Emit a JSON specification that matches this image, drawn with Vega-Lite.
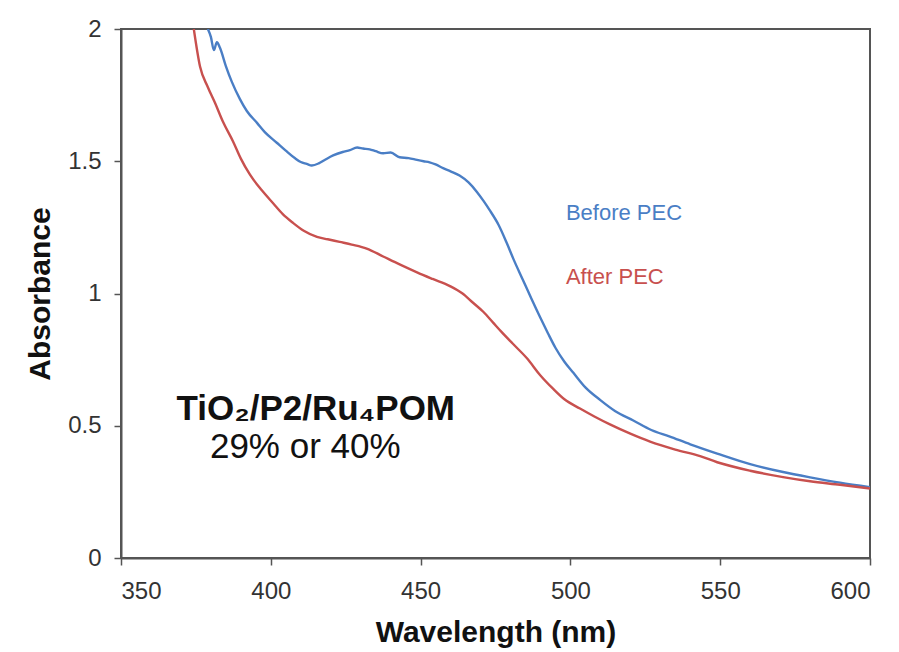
{
  "$schema": "https://vega.github.io/schema/vega-lite/v6.json",
  "width": 749,
  "height": 529,
  "autosize": {"type": "none"},
  "padding": {"left": 121, "top": 29, "right": 29, "bottom": 94},
  "background": "white",
  "config": {
    "font": "Liberation Sans",
    "view": {"stroke": "#555555", "strokeWidth": 2},
    "axis": {
      "grid": false,
      "domainColor": "#555555",
      "domainWidth": 2,
      "tickColor": "#555555",
      "tickWidth": 1.5,
      "tickSize": 7,
      "labelFont": "Liberation Sans",
      "labelFontSize": 24,
      "labelColor": "#333333",
      "titleFont": "Liberation Sans",
      "titleFontSize": 30,
      "titleFontWeight": "bold",
      "titleColor": "#111111"
    }
  },
  "datasets": {
    "spectra": [
      {"wl": 379, "A": 2.0, "series": "Before PEC"},
      {"wl": 380, "A": 1.97, "series": "Before PEC"},
      {"wl": 381, "A": 1.92, "series": "Before PEC"},
      {"wl": 382, "A": 1.95, "series": "Before PEC"},
      {"wl": 383, "A": 1.93, "series": "Before PEC"},
      {"wl": 385, "A": 1.86, "series": "Before PEC"},
      {"wl": 387, "A": 1.8, "series": "Before PEC"},
      {"wl": 389.7, "A": 1.735, "series": "Before PEC"},
      {"wl": 392, "A": 1.69, "series": "Before PEC"},
      {"wl": 395.4, "A": 1.645, "series": "Before PEC"},
      {"wl": 398, "A": 1.61, "series": "Before PEC"},
      {"wl": 402, "A": 1.57, "series": "Before PEC"},
      {"wl": 405, "A": 1.54, "series": "Before PEC"},
      {"wl": 408, "A": 1.512, "series": "Before PEC"},
      {"wl": 410, "A": 1.497, "series": "Before PEC"},
      {"wl": 412, "A": 1.49, "series": "Before PEC"},
      {"wl": 413.7, "A": 1.484, "series": "Before PEC"},
      {"wl": 416, "A": 1.492, "series": "Before PEC"},
      {"wl": 418, "A": 1.505, "series": "Before PEC"},
      {"wl": 420.8, "A": 1.522, "series": "Before PEC"},
      {"wl": 424, "A": 1.535, "series": "Before PEC"},
      {"wl": 426.4, "A": 1.542, "series": "Before PEC"},
      {"wl": 428.8, "A": 1.552, "series": "Before PEC"},
      {"wl": 430.8, "A": 1.548, "series": "Before PEC"},
      {"wl": 433, "A": 1.545, "series": "Before PEC"},
      {"wl": 435, "A": 1.538, "series": "Before PEC"},
      {"wl": 437.5, "A": 1.53, "series": "Before PEC"},
      {"wl": 440, "A": 1.533, "series": "Before PEC"},
      {"wl": 443, "A": 1.515, "series": "Before PEC"},
      {"wl": 446, "A": 1.512, "series": "Before PEC"},
      {"wl": 448.8, "A": 1.505, "series": "Before PEC"},
      {"wl": 451, "A": 1.5, "series": "Before PEC"},
      {"wl": 453, "A": 1.496, "series": "Before PEC"},
      {"wl": 455, "A": 1.488, "series": "Before PEC"},
      {"wl": 457.5, "A": 1.474, "series": "Before PEC"},
      {"wl": 460, "A": 1.462, "series": "Before PEC"},
      {"wl": 463, "A": 1.446, "series": "Before PEC"},
      {"wl": 466, "A": 1.42, "series": "Before PEC"},
      {"wl": 468.8, "A": 1.384, "series": "Before PEC"},
      {"wl": 471, "A": 1.35, "series": "Before PEC"},
      {"wl": 473, "A": 1.316, "series": "Before PEC"},
      {"wl": 476, "A": 1.26, "series": "Before PEC"},
      {"wl": 478.8, "A": 1.19, "series": "Before PEC"},
      {"wl": 481, "A": 1.13, "series": "Before PEC"},
      {"wl": 484, "A": 1.055, "series": "Before PEC"},
      {"wl": 487, "A": 0.98, "series": "Before PEC"},
      {"wl": 489.9, "A": 0.91, "series": "Before PEC"},
      {"wl": 492.5, "A": 0.85, "series": "Before PEC"},
      {"wl": 495, "A": 0.795, "series": "Before PEC"},
      {"wl": 498, "A": 0.742, "series": "Before PEC"},
      {"wl": 501, "A": 0.7, "series": "Before PEC"},
      {"wl": 505, "A": 0.645, "series": "Before PEC"},
      {"wl": 510, "A": 0.597, "series": "Before PEC"},
      {"wl": 515, "A": 0.555, "series": "Before PEC"},
      {"wl": 521, "A": 0.52, "series": "Before PEC"},
      {"wl": 527, "A": 0.484, "series": "Before PEC"},
      {"wl": 533, "A": 0.46, "series": "Before PEC"},
      {"wl": 540, "A": 0.43, "series": "Before PEC"},
      {"wl": 549, "A": 0.395, "series": "Before PEC"},
      {"wl": 560, "A": 0.355, "series": "Before PEC"},
      {"wl": 571, "A": 0.325, "series": "Before PEC"},
      {"wl": 580, "A": 0.305, "series": "Before PEC"},
      {"wl": 590, "A": 0.285, "series": "Before PEC"},
      {"wl": 600, "A": 0.268, "series": "Before PEC"},
      {"wl": 374.3, "A": 2.0, "series": "After PEC"},
      {"wl": 376.4, "A": 1.857, "series": "After PEC"},
      {"wl": 379, "A": 1.78, "series": "After PEC"},
      {"wl": 381.4, "A": 1.72, "series": "After PEC"},
      {"wl": 384, "A": 1.65, "series": "After PEC"},
      {"wl": 387.4, "A": 1.575, "series": "After PEC"},
      {"wl": 390, "A": 1.51, "series": "After PEC"},
      {"wl": 393, "A": 1.45, "series": "After PEC"},
      {"wl": 397, "A": 1.39, "series": "After PEC"},
      {"wl": 400.7, "A": 1.342, "series": "After PEC"},
      {"wl": 404, "A": 1.3, "series": "After PEC"},
      {"wl": 407.4, "A": 1.267, "series": "After PEC"},
      {"wl": 411, "A": 1.237, "series": "After PEC"},
      {"wl": 415.4, "A": 1.214, "series": "After PEC"},
      {"wl": 419, "A": 1.205, "series": "After PEC"},
      {"wl": 423, "A": 1.195, "series": "After PEC"},
      {"wl": 427, "A": 1.185, "series": "After PEC"},
      {"wl": 432, "A": 1.17, "series": "After PEC"},
      {"wl": 437.5, "A": 1.14, "series": "After PEC"},
      {"wl": 443, "A": 1.11, "series": "After PEC"},
      {"wl": 448.8, "A": 1.08, "series": "After PEC"},
      {"wl": 454, "A": 1.055, "series": "After PEC"},
      {"wl": 459.8, "A": 1.028, "series": "After PEC"},
      {"wl": 464, "A": 1.0, "series": "After PEC"},
      {"wl": 467.5, "A": 0.965, "series": "After PEC"},
      {"wl": 471, "A": 0.93, "series": "After PEC"},
      {"wl": 474.2, "A": 0.89, "series": "After PEC"},
      {"wl": 477, "A": 0.855, "series": "After PEC"},
      {"wl": 480.8, "A": 0.81, "series": "After PEC"},
      {"wl": 485.5, "A": 0.755, "series": "After PEC"},
      {"wl": 490, "A": 0.69, "series": "After PEC"},
      {"wl": 494.2, "A": 0.64, "series": "After PEC"},
      {"wl": 498, "A": 0.6, "series": "After PEC"},
      {"wl": 503.2, "A": 0.565, "series": "After PEC"},
      {"wl": 508, "A": 0.535, "series": "After PEC"},
      {"wl": 513.2, "A": 0.505, "series": "After PEC"},
      {"wl": 520, "A": 0.47, "series": "After PEC"},
      {"wl": 526.6, "A": 0.44, "series": "After PEC"},
      {"wl": 535, "A": 0.41, "series": "After PEC"},
      {"wl": 543.3, "A": 0.385, "series": "After PEC"},
      {"wl": 549, "A": 0.362, "series": "After PEC"},
      {"wl": 560, "A": 0.33, "series": "After PEC"},
      {"wl": 571, "A": 0.306, "series": "After PEC"},
      {"wl": 580, "A": 0.29, "series": "After PEC"},
      {"wl": 590, "A": 0.277, "series": "After PEC"},
      {"wl": 600, "A": 0.263, "series": "After PEC"}
    ],
    "labels": [
      {"wl": 498.5, "A": 1.304, "text": "Before PEC", "series": "Before PEC"},
      {"wl": 498.5, "A": 1.062, "text": "After PEC", "series": "After PEC"}
    ],
    "boldnote": [
      {"wl": 415, "A": 0.565, "text": "TiO₂/P2/Ru₄POM"}
    ],
    "plainnote": [
      {"wl": 411.5, "A": 0.42, "text": "29% or 40%"}
    ]
  },
  "layer": [
    {
      "data": {"name": "spectra"},
      "mark": {"type": "line", "strokeWidth": 2.4, "clip": true, "interpolate": "monotone"},
      "encoding": {
        "x": {
          "field": "wl", "type": "quantitative",
          "scale": {"domain": [350, 600], "nice": false},
          "axis": {"values": [350, 400, 450, 500, 550, 600], "title": "Wavelength (nm)", "labelPadding": 14, "titlePadding": 14}
        },
        "y": {
          "field": "A", "type": "quantitative",
          "scale": {"domain": [0, 2], "nice": false},
          "axis": {"values": [0, 0.5, 1, 1.5, 2], "format": "~g", "title": "Absorbance", "labelPadding": 13, "titlePadding": 12}
        },
        "color": {
          "field": "series", "type": "nominal",
          "scale": {"domain": ["Before PEC", "After PEC"], "range": ["#4A7EC5", "#C8504E"]},
          "legend": null
        },
        "order": {"field": "wl", "type": "quantitative"}
      }
    },
    {
      "data": {"name": "labels"},
      "mark": {"type": "text", "align": "left", "baseline": "middle", "fontSize": 22, "font": "Liberation Sans"},
      "encoding": {
        "x": {"field": "wl", "type": "quantitative"},
        "y": {"field": "A", "type": "quantitative"},
        "text": {"field": "text"},
        "color": {"field": "series", "type": "nominal", "legend": null}
      }
    },
    {
      "data": {"name": "boldnote"},
      "mark": {"type": "text", "align": "center", "baseline": "middle", "fontSize": 35, "fontWeight": "bold", "font": "Liberation Sans", "color": "#111111"},
      "encoding": {
        "x": {"field": "wl", "type": "quantitative"},
        "y": {"field": "A", "type": "quantitative"},
        "text": {"field": "text"}
      }
    },
    {
      "data": {"name": "plainnote"},
      "mark": {"type": "text", "align": "center", "baseline": "middle", "fontSize": 35, "font": "Liberation Sans", "color": "#111111"},
      "encoding": {
        "x": {"field": "wl", "type": "quantitative"},
        "y": {"field": "A", "type": "quantitative"},
        "text": {"field": "text"}
      }
    }
  ]
}
